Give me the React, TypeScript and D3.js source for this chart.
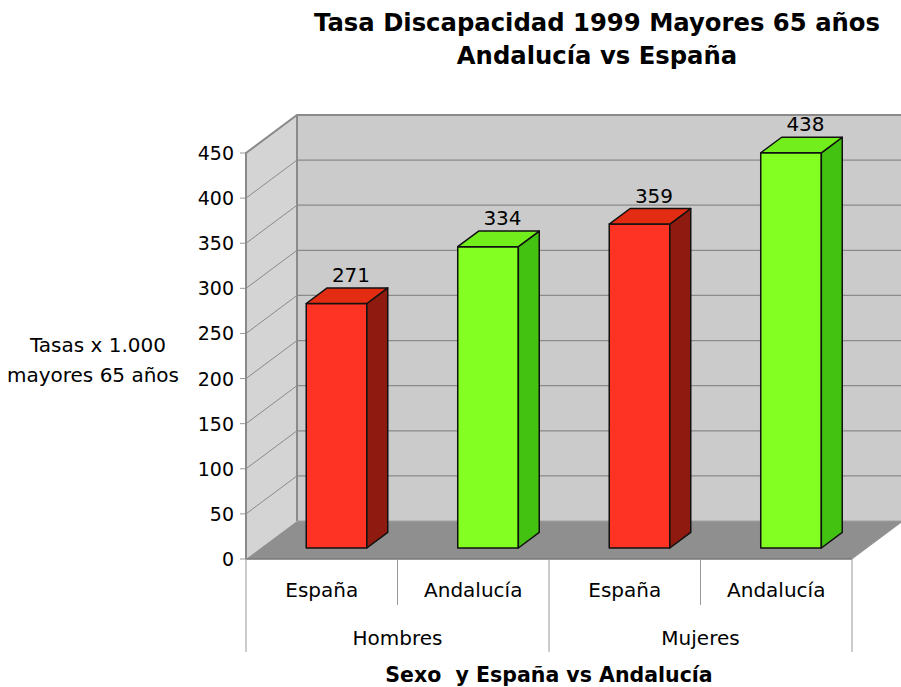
import React from 'react';
import * as d3 from 'd3';

const groups = ['Hombres', 'Mujeres'];
const regions = ['España', 'Andalucía'];
const values = [271, 334, 359, 438];
const yTicks = [0, 50, 100, 150, 200, 250, 300, 350, 400, 450];

const W = 901;
const H = 687;
// 3d depth offset of the back wall
const DX = 51;
const DY = -38;
const FRONT = 0.29;
const BACK = 0.7;

const red = { front: '#ff3324', top: '#e42c12', side: '#8e1a10' };
const green = { front: '#84ff22', top: '#72ee1c', side: '#44c212' };

const font = '"DejaVu Sans", Verdana, sans-serif';

export default function App() {
  const cats = groups.flatMap((g) => regions.map((r) => `${g}|${r}`));
  const y = d3.scaleLinear().domain([0, 450]).range([559, 153]);
  const x = d3.scaleBand<string>().domain(cats).range([246, 852]).paddingInner(0.6).paddingOuter(0.3);
  const xg = d3.scaleBand<string>().domain(groups).range([246, 852]);
  const step = x.step();
  const x0 = 246;
  const x1 = 852;
  const y0 = y(0);
  const yTop = y(450);

  const pts = (p: [number, number][]) => p.map((d) => d.join(',')).join(' ');

  return (
    <svg width={W} height={H} style={{ position: 'absolute', left: 0, top: 0, background: '#fff' }}>
      {/* title */}
      <text x={597} y={31} textAnchor="middle" fontFamily={font} fontWeight="bold" fontSize={24.3}>
        Tasa Discapacidad 1999 Mayores 65 años
      </text>
      <text x={597} y={64} textAnchor="middle" fontFamily={font} fontWeight="bold" fontSize={24.3}>
        Andalucía vs España
      </text>

      {/* back wall */}
      <rect x={x0 + DX} y={yTop + DY} width={x1 - x0} height={y0 - yTop} fill="#cbcbcb" />
      {/* left wall */}
      <polygon points={pts([[x0, y0], [x0, yTop], [x0 + DX, yTop + DY], [x0 + DX, y0 + DY]])} fill="#d4d4d4" />
      {/* floor */}
      <polygon points={pts([[x0, y0], [x1, y0], [x1 + DX, y0 + DY], [x0 + DX, y0 + DY]])} fill="#8f8f8f" />

      {/* gridlines */}
      {yTicks.map((t) => (
        <g key={t}>
          {t > 0 && t < 450 && (
            <line x1={x0 + DX} x2={x1 + DX} y1={y(t) + DY} y2={y(t) + DY} stroke="#8a8a8a" strokeWidth={1.2} />
          )}
          {t > 0 && t < 450 && (
            <line x1={x0} x2={x0 + DX} y1={y(t)} y2={y(t) + DY} stroke="#8a8a8a" strokeWidth={1} />
          )}
          <line x1={x0 - 6} x2={x0} y1={y(t)} y2={y(t)} stroke="#999" strokeWidth={1} />
          <text x={234} y={y(t) + 7} textAnchor="end" fontFamily={font} fontSize={19}>
            {t}
          </text>
        </g>
      ))}

      {/* wall edges */}
      <polyline points={pts([[x0, y0], [x0, yTop], [x0 + DX, yTop + DY], [x1 + DX, yTop + DY]])} fill="none" stroke="#8a8a8a" strokeWidth={2} />
      <line x1={x0 + DX} x2={x0 + DX} y1={yTop + DY} y2={y0 + DY} stroke="#8a8a8a" strokeWidth={2} />
      <line x1={x0 + DX} x2={x1 + DX} y1={y0 + DY} y2={y0 + DY} stroke="#a0a0a0" strokeWidth={1} />
      <line x1={x0} x2={x1} y1={y0} y2={y0} stroke="#777" strokeWidth={1.5} />
      <line x1={x1} x2={x1 + DX} y1={y0} y2={y0 + DY} stroke="#999" strokeWidth={1} />

      {/* bars */}
      {cats.map((c, i) => {
        const v = values[i];
        const col = i % 2 === 0 ? red : green;
        const fx = (x(c) as number) + DX * FRONT;
        const fy = DY * FRONT;
        const bw = x.bandwidth();
        const ddx = DX * (BACK - FRONT);
        const ddy = DY * (BACK - FRONT);
        const top = y(v) + fy;
        const bot = y0 + fy;
        return (
          <g key={c} stroke="#111" strokeWidth={1.5} strokeLinejoin="round">
            <rect x={fx} y={top} width={bw} height={bot - top} fill={col.front} />
            <polygon points={pts([[fx + bw, top], [fx + bw + ddx, top + ddy], [fx + bw + ddx, bot + ddy], [fx + bw, bot]])} fill={col.side} />
            <polygon points={pts([[fx, top], [fx + ddx, top + ddy], [fx + bw + ddx, top + ddy], [fx + bw, top]])} fill={col.top} />
            <text
              x={fx + bw / 2 + ddx / 2 + 4}
              y={top + ddy - 6}
              textAnchor="middle"
              fontFamily={font}
              fontSize={20}
              stroke="none"
              fill="#000"
            >
              {v}
            </text>
          </g>
        );
      })}

      {/* category axis */}
      <line x1={x0} x2={x0} y1={y0} y2={652} stroke="#999" strokeWidth={1} />
      {cats.map((c, i) => {
        const bx = x0 + step * (i + 1);
        const full = i % 2 === 1;
        return <line key={'d' + c} x1={bx} x2={bx} y1={y0} y2={full ? 652 : 605} stroke="#999" strokeWidth={1} />;
      })}
      {cats.map((c, i) => (
        <text key={'t' + c} x={x0 + step * (i + 0.5)} y={597} textAnchor="middle" fontFamily={font} fontSize={20}>
          {regions[i % 2]}
        </text>
      ))}
      {groups.map((g) => (
        <text key={g} x={(xg(g) as number) + xg.bandwidth() / 2} y={645} textAnchor="middle" fontFamily={font} fontSize={20}>
          {g}
        </text>
      ))}
      <text x={549} y={682} textAnchor="middle" fontFamily={font} fontWeight="bold" fontSize={20.5} style={{ whiteSpace: 'pre' }}>
        {'Sexo  y España vs Andalucía'}
      </text>

      {/* y axis title */}
      <text x={98} y={352} textAnchor="middle" fontFamily={font} fontSize={20}>
        Tasas x 1.000
      </text>
      <text x={93} y={382} textAnchor="middle" fontFamily={font} fontSize={20}>
        mayores 65 años
      </text>
    </svg>
  );
}
